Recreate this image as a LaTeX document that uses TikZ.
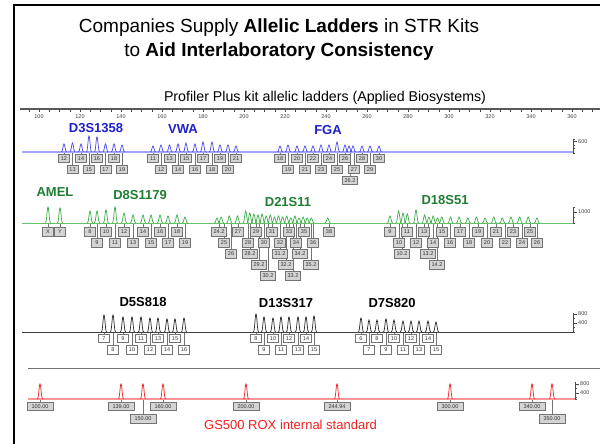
\documentclass[tikz,border=0pt]{standalone}
\usepackage{fontspec}
\setmainfont{Liberation Sans}
\usetikzlibrary{backgrounds}
\definecolor{lblue}{RGB}{30,30,205}
\definecolor{bbase}{RGB}{165,165,255}
\definecolor{bpk}{RGB}{70,70,235}
\definecolor{lgreen}{RGB}{30,125,50}
\definecolor{gbase}{RGB}{100,195,100}
\definecolor{gpk}{RGB}{60,170,70}
\definecolor{rbase}{RGB}{255,150,150}
\definecolor{rpk}{RGB}{240,30,30}
\definecolor{rtext}{RGB}{240,30,30}
\tikzset{
  locus/.style={font=\fontsize{13}{14}\selectfont\bfseries, inner sep=0pt},
  abox/.style={draw=black!55, fill=black!17, line width=0.6pt, font=\fontsize{5.5}{6}\selectfont, inner xsep=2.2pt, inner ysep=0pt, minimum height=8.5pt, minimum width=11pt, text=black!80},
  wbox/.style={abox, fill=white},
  rbox/.style={abox, minimum width=26pt},
  conn/.style={draw=black!55, line width=0.5pt},
  ticklab/.style={font=\fontsize{5.5}{6}\selectfont, text=black!75, inner sep=0pt},
  scalelab/.style={font=\fontsize{5.5}{6}\selectfont, text=black!75, inner sep=0pt, anchor=west},
  scalebar/.style={draw=black!70, line width=0.6pt},
  bpkst/.style={draw=bpk, line width=0.7pt},
  gpkst/.style={draw=gpk, line width=0.7pt},
  kpkst/.style={draw=black!85, line width=0.7pt},
  rpkst/.style={draw=rpk, line width=0.7pt},
}
\newcommand\pkdraw[4]{%
  \draw[#1] ({#2-2.6},#3) .. controls ({#2-1.3},#3) and ({#2-0.9},{#3-#4}) .. (#2,{#3-#4}) .. controls ({#2+0.9},{#3-#4}) and ({#2+1.3},#3) .. ({#2+2.6},#3);}
\begin{document}
\begin{tikzpicture}[x=1pt,y=-1pt]
\useasboundingbox (0,0) rectangle (600,444);
% frame
\draw[line width=2pt] (14,446) -- (14,5) -- (602,5);
% titles
\node (t1) at (279,28) {\fontsize{19}{22}\selectfont Companies Supply \textbf{Allelic Ladders} in STR Kits};
\node (t2) at (279,52) {\fontsize{19}{22}\selectfont to \textbf{Aid Interlaboratory Consistency}};
\node (st) at (325,98) {\fontsize{14.2}{16}\selectfont Profiler Plus kit allelic ladders (Applied Biosystems)};
% axis
\draw[black!65, line width=1.2pt] (20,109) -- (600,109);
\foreach \v in {95,100,...,370}{\draw[black!70, line width=0.5pt] ({39+2.05*(\v-100)},109) -- ++(0,2.5);}
\foreach \v in {100,120,...,360}{\node[ticklab] (ax\v) at ({39+2.05*(\v-100)},117) {\v};}

% ---------- blue channel ----------
\draw[bbase, line width=1.6pt] (22,152) -- (573,152);
\node[locus, text=lblue] (d3) at (96,128) {D3S1358};
\node[locus, text=lblue] (vwa) at (183,129) {VWA};
\node[locus, text=lblue] (fga) at (328,130) {FGA};
\foreach \p/\b/\h/\r/\l [count=\i] in {
 64/64/8/1/12, 72.5/72.5/9/2/13, 81/81/8/1/14, 89/89/16/2/15, 97/97/15/1/16, 105.5/105.5/8/2/17, 114/114/8/1/18, 122/122/7/2/19,
 153/153/6/1/11, 161/161/7/2/12, 169.5/169.5/7/1/13, 178/178/8/2/14, 186/186/9/1/15, 195/195/8/2/16, 203/203/10/1/17, 212/212/10/2/18, 220/220/7/1/19, 228/228/7/2/20, 236/236/6/1/21,
 280/280/6/1/18, 288/288/7/2/19, 297/297/6/1/20, 305/305/6/2/21, 313/313/6/1/22, 321/321/7/2/23, 329/329/7/1/24, 337/337/10/2/25, 345/345/7/1/26, 349/350/6/3/26.2, 353/354/6/2/27, 362/362/6/1/28, 370/370/6/2/29, 379/379/6/1/30}{
  \pkdraw{bpkst}{\p}{152}{\h}
  \node[abox] (bB\i) at (\b,{147.5+11*\r}) {\l};
  \coordinate (bP\i) at (\b,152);
  \begin{pgfonlayer}{background}\draw[conn] (bP\i) -- (bB\i.north);\end{pgfonlayer}
}
\draw[scalebar] (573,139) -- (573,153);
\foreach \yy in {139,145,148,153}{\draw[scalebar] (573,\yy) -- ++(2,0);}
\draw[scalebar] (573,141.5) -- ++(4,0);
\node[scalelab] (s600) at (578,141.5) {600};

% ---------- green channel ----------
\draw[gbase, line width=0.9pt] (22,223) -- (573,223);
\node[locus, text=lgreen] (amel) at (55,192) {AMEL};
\node[locus, text=lgreen] (d8) at (140,195) {D8S1179};
\node[locus, text=lgreen] (d21) at (288,202) {D21S11};
\node[locus, text=lgreen] (d18) at (445,200) {D18S51};
\foreach \p/\b/\h/\r/\l [count=\i] in {
 48/48/16/1/X, 60/60/15/1/Y,
 90/90/12/1/8, 97/97/12/2/9, 106/106/13/1/10, 115/115/16/2/11, 124/124/10/1/12, 133/133/8/2/13, 143/143/8/1/14, 151/151/8/2/15, 160/160/8/1/16, 168/168/7/2/17, 177/177/8/1/18, 185/185/6/2/19,
 217/219/5/1/24.2, 221.1/224/6/2/25, 229.3/231/7/3/26, 237.5/238/7/1/27, 245.7/248/12/2/28, 249.8/250/10/3/28.2, 253.9/256/9/1/29, 258/259/8/4/29.2, 262.1/264/9/2/30, 266.2/268/7/5/30.2, 270.3/272/8/1/31, 274.4/280/6/3/31.2, 278.5/280/7/2/32, 282.6/286/6/4/32.2, 286.7/289/7/1/33, 290.8/293/5/5/33.2, 294.9/296/7/2/34, 299/300/5/3/34.2, 303.1/304/6/1/35, 307.2/311/5/4/35.2, 311.3/313/5/2/36, 327.7/329/5/1/38,
 390/390/7/1/9, 398.6/399/12/2/10, 403/402/10/3/10.2, 407.3/407/9/1/11, 416/416/13/2/12, 424.6/424/8/1/13, 428.9/428/6/3/13.2, 433.2/433/7/2/14, 437.5/437/5/4/14.2, 441.8/442/6/1/15, 450.5/450/6/2/16, 459.1/460/6/1/17, 467.8/469/5/2/18, 476.4/478/6/1/19, 485/487/5/2/20, 493.7/496/6/1/21, 502.3/505/5/2/22, 511/513/6/1/23, 519.6/522/6/2/24, 528.2/530/6/1/25, 536.9/537/5/2/26}{
  \pkdraw{gpkst}{\p}{223}{\h}
  \node[abox] (gB\i) at (\b,{221+11*\r}) {\l};
  \coordinate (gP\i) at (\b,223);
  \begin{pgfonlayer}{background}\draw[conn] (gP\i) -- (gB\i.north);\end{pgfonlayer}
}
\draw[scalebar] (573,207) -- (573,223);
\foreach \yy in {207,217,223}{\draw[scalebar] (573,\yy) -- ++(2,0);}
\draw[scalebar] (573,212) -- ++(4,0);
\node[scalelab] (s1000) at (578,212) {1000};

% ---------- black channel ----------
\draw[black!75, line width=0.6pt] (22,332) -- (573,332);
\node[locus] (d5) at (143,302) {D5S818};
\node[locus] (d13) at (286,303) {D13S317};
\node[locus] (d7) at (392,303) {D7S820};
\foreach \p/\h/\r/\l [count=\i] in {
 104/17/1/7, 113/17/2/8, 123/15/1/9, 132/15/2/10, 141/15/1/11, 150/14/2/12, 158/14/1/13, 167/13/2/14, 175/13/1/15, 184/14/2/16,
 256/18/1/8, 264/15/2/9, 273/14/1/10, 281/15/2/11, 289/15/1/12, 298/15/2/13, 306/15/1/14, 314/16/2/15,
 361/14/1/6, 369/12/2/7, 377/12/1/8, 386/13/2/9, 394/12/1/10, 403/11/2/11, 411/11/1/12, 419/11/2/13, 428/11/1/14, 436/10/2/15}{
  \pkdraw{kpkst}{\p}{332}{\h}
  \node[wbox] (kB\i) at (\p,{327+11.5*\r}) {\l};
  \coordinate (kP\i) at (\p,332);
  \begin{pgfonlayer}{background}\draw[conn] (kP\i) -- (kB\i.north);\end{pgfonlayer}
}
\draw[scalebar] (573,313) -- (573,332);
\foreach \yy in {318,327,332}{\draw[scalebar] (573,\yy) -- ++(2,0);}
\draw[scalebar] (573,314) -- ++(4,0);
\draw[scalebar] (573,323) -- ++(4,0);
\node[scalelab] (s800k) at (578,314) {800};
\node[scalelab] (s400k) at (578,323) {400};

% separator
\draw[black!55, line width=0.9pt] (28,368) -- (600,368);

% ---------- red channel ----------
\draw[rbase, line width=1.2pt] (28,399) -- (575,399);
\foreach \p/\r/\l [count=\i] in {40/1/100.00, 121/1/139.00, 143/2/150.00, 163/1/160.00, 246/1/200.00, 337/1/244.94, 450/1/300.00, 532/1/340.00, 552/2/350.00}{
  \pkdraw{rpkst}{\p}{399}{15}
  \node[rbox] (rB\i) at (\p,{394+12.5*\r}) {\l};
  \coordinate (rP\i) at (\p,399);
  \begin{pgfonlayer}{background}\draw[conn] (rP\i) -- (rB\i.north);\end{pgfonlayer}
}
\draw[scalebar] (575,382) -- (575,399);
\foreach \yy in {388,397,399}{\draw[scalebar] (575,\yy) -- ++(2,0);}
\draw[scalebar] (575,384) -- ++(4,0);
\draw[scalebar] (575,393) -- ++(4,0);
\node[scalelab] (s800r) at (580,384) {800};
\node[scalelab] (s400r) at (580,393) {400};
\node[text=rtext, font=\fontsize{13}{15}\selectfont] (cap) at (290.5,425) {GS500 ROX internal standard};
\end{tikzpicture}
\end{document}
